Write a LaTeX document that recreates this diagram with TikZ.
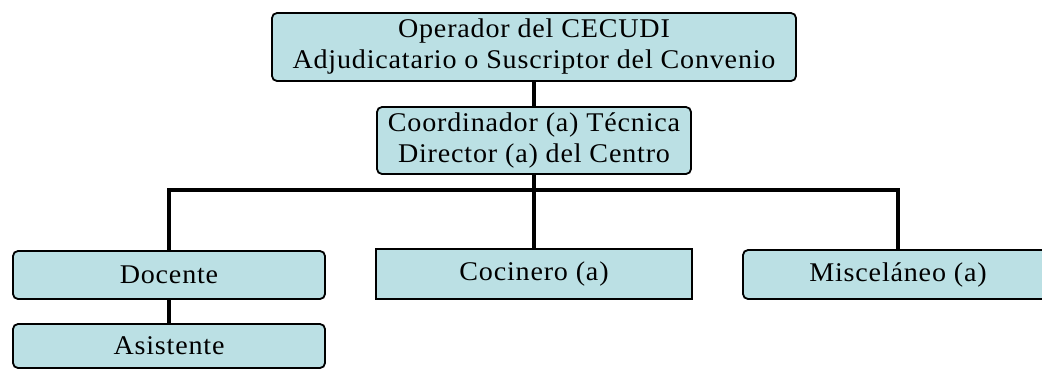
\documentclass[tikz,border=0pt]{standalone}
\usepackage{fontspec}
\setmainfont{Liberation Serif}[LetterSpace=3,FakeStretch=1.04]
\definecolor{boxfill}{RGB}{187,224,228}
\begin{document}
\begin{tikzpicture}[x=1pt,y=-1pt,
  orgbox/.style={draw=black, line width=1.8pt, fill=boxfill, rounded corners=5pt,
    inner sep=0pt, align=center, font=\fontsize{27}{31}\selectfont},
  sqbox/.style={orgbox, rounded corners=0pt},
  link/.style={line width=4pt}]
\useasboundingbox (0,0) rectangle (1042,368);
\clip (0,0) rectangle (1042,368);
\node[orgbox, minimum width=524pt, minimum height=68pt] (op) at (534,47)
  {Operador del CECUDI\\Adjudicatario o Suscriptor del Convenio};
\node[orgbox, minimum width=314pt, minimum height=67pt] (co) at (534,140.5)
  {Coordinador (a) Técnica\\Director (a) del Centro};
\node[orgbox, minimum width=312pt, minimum height=48pt] (doc) at (169,275) {Docente};
\node[orgbox, minimum width=312pt, minimum height=44pt] (asi) at (169,346) {Asistente};
\node[sqbox, minimum width=316pt, minimum height=50pt] (coc) at (534,274) {Cocinero (a)};
\node[orgbox, minimum width=310pt, minimum height=49pt] (mis) at (898,274.5) {Misceláneo (a)};
\coordinate (bus) at (534,190);
\coordinate (busl) at (169,190);
\coordinate (busr) at (898,190);
\draw[link] (op.south) -- (co.north);
\draw[link] (co.south) -- (coc.north);
\draw[link] (doc.north) -- (busl) -- (busr) -- (mis.north);
\draw[link] (doc.south) -- (asi.north);
\end{tikzpicture}
\end{document}
